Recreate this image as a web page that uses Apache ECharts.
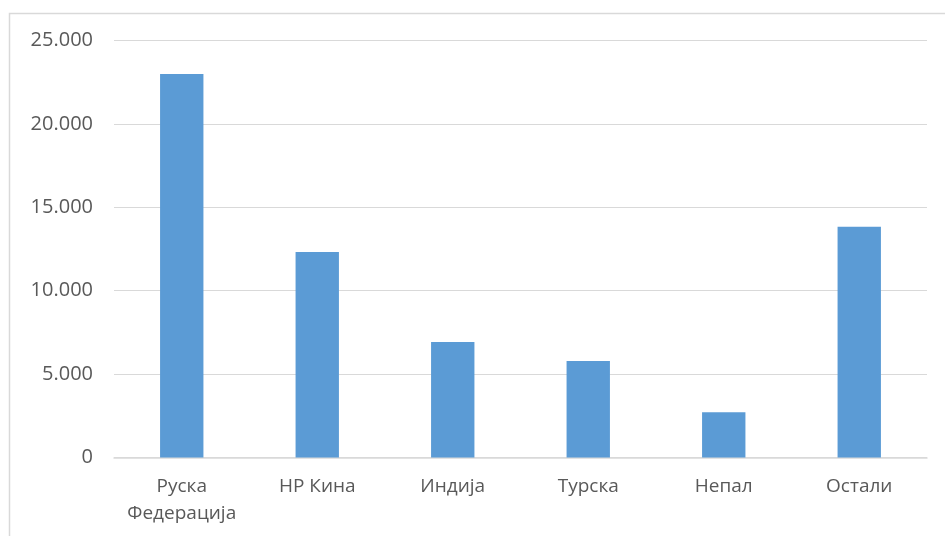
<!DOCTYPE html>
<html>
<head>
<meta charset="utf-8">
<script src="https://cdn.jsdelivr.net/npm/echarts@6/dist/echarts.min.js"></script>
<style>html,body{margin:0;padding:0;background:#fff}#c{width:945px;height:536px}</style>
</head>
<body>
<div id="c"></div>
<script>
const categories = ['Руска\nФедерација', 'НР Кина', 'Индија', 'Турска', 'Непал', 'Остали'];
const values = [22990, 12320, 6925, 5785, 2710, 13840];
const yTicks = [0, 5000, 10000, 15000, 20000, 25000];

function fmt(v) {
  return String(v).replace(/\B(?=(\d{3})+(?!\d))/g, '.');
}

const chart = echarts.init(document.getElementById('c'), null, {renderer: 'canvas'});
chart.setOption({
  animation: false,
  backgroundColor: '#fff',
  graphic: [{
    type: 'rect',
    shape: {x: 9.5, y: 13.5, width: 1000, height: 600},
    style: {fill: 'none', stroke: '#d9d9d9', lineWidth: 1.5},
    silent: true
  }],
  grid: {left: 114, right: 18, top: 40.5, bottom: 78.5, containLabel: false},
  xAxis: {
    type: 'category',
    data: categories,
    axisLine: {show: true, lineStyle: {color: '#d9d9d9', width: 1.5}},
    axisTick: {show: false},
    axisLabel: {
      interval: 0,
      hideOverlap: false,
      color: '#595959',
      fontFamily: 'Open Sans',
      fontSize: 19,
      margin: 16,
      lineHeight: 27
    }
  },
  yAxis: {
    type: 'value',
    min: yTicks[0],
    max: yTicks[yTicks.length - 1],
    interval: 5000,
    axisLine: {show: false},
    axisTick: {show: false},
    splitLine: {lineStyle: {color: '#d9d9d9', width: 1.2}},
    axisLabel: {
      color: '#595959',
      fontFamily: 'Open Sans',
      fontSize: 20,
      margin: 21,
      formatter: fmt
    }
  },
  series: [{
    type: 'bar',
    data: values,
    barWidth: '32%',
    itemStyle: {color: '#5b9bd5'}
  }]
});
</script>
</body>
</html>
